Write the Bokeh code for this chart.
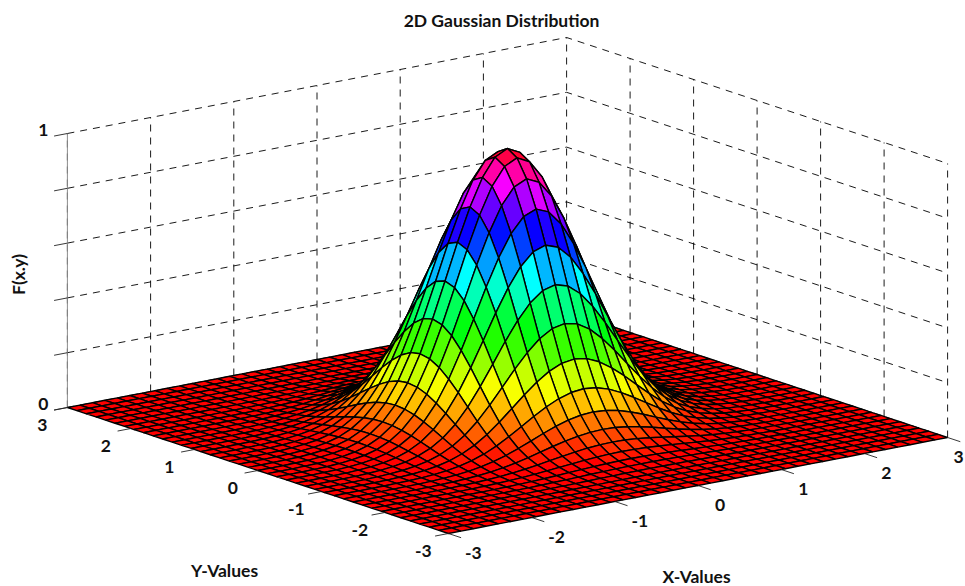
import colorsys
import numpy as np
from bokeh.plotting import figure
from bokeh.models import ColumnDataSource, Range1d
from bokeh.core.properties import value
from bokeh.embed import file_html
from bokeh.resources import INLINE

# --- data ---
title = "2D Gaussian Distribution"
x_label = "X-Values"
y_label = "Y-Values"
z_label = "F(x.y)"
x_ticks = [-3, -2, -1, 0, 1, 2, 3]
y_ticks = [-3, -2, -1, 0, 1, 2, 3]
z_ticks = [0, 0.2, 0.4, 0.6, 0.8, 1]
z_tick_labels = ["0", "", "", "", "", "1"]
grid_step = 0.15
# surface height along the central ridge, from the peak outwards (one value per mesh step)
ridge = [1.0, 0.977, 0.912, 0.813, 0.693, 0.560, 0.430, 0.312, 0.215, 0.142, 0.090,
         0.055, 0.032, 0.018, 0.010, 0.005, 0.002, 0.001, 0.0, 0.0, 0.0]

# --- view ---
CX, CY = 507.0, 422.0
EX = (83.2, -16.0)
EY = (-63.5, -21.0)
EZ = -274.0
FONT = "Lato"

def proj(x, y, z=0.0):
    return CX + EX[0] * np.asarray(x) + EY[0] * np.asarray(y), \
           CY + EX[1] * np.asarray(x) + EY[1] * np.asarray(y) + EZ * np.asarray(z)

W, H = 965, 586
p = figure(width=W, height=H, x_range=Range1d(0, W), y_range=Range1d(H, 0),
           output_backend="svg", toolbar_location=None, min_border=0)
p.axis.visible = False
p.grid.visible = False
p.outline_line_color = None
p.background_fill_color = "white"

# --- dashed walls ---
DASH = "7 6"
xs, ys = [], []
for t in x_ticks:
    a, b = proj([t, t], [3, 3], [0, 1])
    xs.append(list(a)); ys.append(list(b))
for t in y_ticks[:-1]:
    a, b = proj([3, 3], [t, t], [0, 1])
    xs.append(list(a)); ys.append(list(b))
for z in z_ticks:
    a, b = proj([-3, 3, 3], [3, 3, -3], [z, z, z])
    xs.append(list(a)); ys.append(list(b))
p.multi_line(xs, ys, line_color="#000000", line_width=0.9, line_dash=DASH)
a, b = proj([-3, -3], [3, 3], [0, 1])
p.line(list(a), list(b), line_color="#8c8c8c", line_width=1.0)

# --- surface ---
half = np.array(ridge)
prof = np.concatenate([half[::-1], half[1:]])
coords = np.arange(len(prof)) * grid_step - 3.0
Z = np.outer(prof, prof)          # Z[i, j]: x index i, y index j
N = len(coords)
fx, fy, fc = [], [], []
for i in range(N - 2, -1, -1):
    for j in range(N - 2, -1, -1):
        xq = [coords[i], coords[i + 1], coords[i + 1], coords[i]]
        yq = [coords[j], coords[j], coords[j + 1], coords[j + 1]]
        zq = [Z[i, j], Z[i + 1, j], Z[i + 1, j + 1], Z[i, j + 1]]
        u, v = proj(xq, yq, zq)
        fx.append(list(u)); fy.append(list(v))
        level = min(int(Z[i, j] * 64), 63) / 64
        r, g, b = colorsys.hsv_to_rgb(level, 1, 1)
        fc.append("#%02x%02x%02x" % (int(r * 255), int(g * 255), int(b * 255)))
src = ColumnDataSource(dict(xs=fx, ys=fy, c=fc))
p.patches("xs", "ys", source=src, fill_color="c", line_color="#000000", line_width=1.4)

# --- tick marks ---
tx, ty = [], []
for t in x_ticks:
    a, b = proj([t, t], [-3, -3.2])
    tx.append(list(a)); ty.append(list(b))
for t in y_ticks:
    a, b = proj([-3, -3.16], [t, t])
    tx.append(list(a)); ty.append(list(b))
for z in z_ticks:
    a, b = proj([-3, -3.16], [3, 3], [z, z])
    tx.append(list(a)); ty.append(list(b))
p.multi_line(tx, ty, line_color="#222222", line_width=0.9)

# --- texts ---
lx, ly, lt = [], [], []
for t in x_ticks:
    a, b = proj(t, -3)
    # the last label sits against the page's right edge
    shift = 22 + (3 if t < 0 else 0) - (11 if t == 3 else 0)
    lx.append(float(a) + shift); ly.append(float(b) + 19); lt.append(str(t))
for t in y_ticks:
    a, b = proj(-3, t)
    lx.append(float(a) - 25); ly.append(float(b) + 17.5); lt.append(str(t))
for z, s in zip(z_ticks, z_tick_labels):
    if s:
        a, b = proj(-3, 3, z)
        lx.append(float(a) - 24); ly.append(float(b) - 4); lt.append(s)
lsrc = ColumnDataSource(dict(x=lx, y=ly, t=lt))
p.text("x", "y", text="t", source=lsrc, text_font=value(FONT), text_font_style="bold",
       text_font_size="17.5px", text_align="center", text_baseline="middle", text_color="#111111")

fsrc = ColumnDataSource(dict(x=[501, 224, 696], y=[20, 570, 576], t=[title, y_label, x_label]))
p.text("x", "y", text="t", source=fsrc, text_font=value(FONT), text_font_style="bold",
       text_font_size="17.5px", text_align="center", text_baseline="middle", text_color="#111111")
zsrc = ColumnDataSource(dict(x=[18], y=[274], t=[z_label]))
p.text("x", "y", text="t", source=zsrc, angle=np.pi / 2, text_font=value(FONT), text_font_style="bold",
       text_font_size="17.5px", text_align="center", text_baseline="middle", text_color="#111111")

open("out.html", "w").write(file_html(p, INLINE))
